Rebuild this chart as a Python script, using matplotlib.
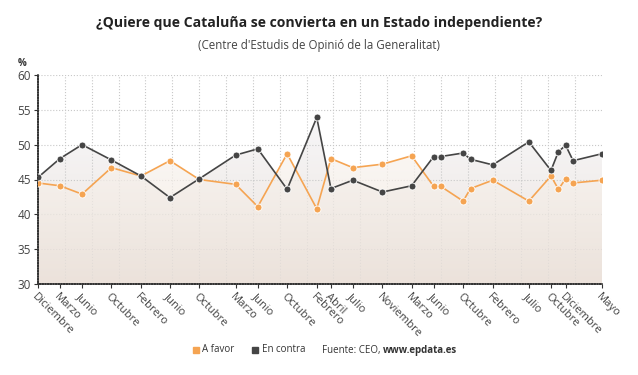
import matplotlib
matplotlib.use("Agg")
import matplotlib.pyplot as plt
import matplotlib.dates as mdates
import numpy as np
import pandas as pd
from matplotlib.colors import LinearSegmentedColormap
from matplotlib.ticker import FixedLocator

plt.rcParams['font.family'] = ['Open Sans', 'DejaVu Sans']

# ---- data ----
survey_dates = ['2011-12', '2012-03', '2012-06', '2012-10', '2013-02', '2013-06',
                '2013-10', '2014-03', '2014-06', '2014-10', '2015-02', '2015-04',
                '2015-07', '2015-11', '2016-03', '2016-06', '2016-07', '2016-10',
                '2016-11', '2017-02', '2017-07', '2017-10', '2017-11', '2017-12',
                '2018-01', '2018-05']
a_favor = [44.5, 44.1, 42.9, 46.7, 45.5, 47.7, 45.0, 44.3, 41.1, 48.7, 40.8, 48.0,
           46.7, 47.2, 48.4, 44.0, 44.0, 41.9, 43.7, 44.9, 41.9, 45.5, 43.6, 45.1,
           44.5, 44.9]
en_contra = [45.3, 48.0, 50.0, 47.8, 45.5, 42.4, 45.1, 48.5, 49.4, 43.6, 53.9, 43.7,
             44.9, 43.2, 44.1, 48.3, 48.3, 48.8, 47.9, 47.1, 50.4, 46.3, 49.0, 49.9,
             47.7, 48.7]
tick_dates = ['2011-12', '2012-03', '2012-06', '2012-10', '2013-02', '2013-06',
              '2013-10', '2014-03', '2014-06', '2014-10', '2015-02', '2015-04',
              '2015-07', '2015-11', '2016-03', '2016-06', '2016-10', '2017-02',
              '2017-07', '2017-10', '2017-12', '2018-05']
tick_labels = ['Diciembre', 'Marzo', 'Junio', 'Octubre', 'Febrero', 'Junio',
               'Octubre', 'Marzo', 'Junio', 'Octubre', 'Febrero', 'Abril',
               'Julio', 'Noviembre', 'Marzo', 'Junio', 'Octubre', 'Febrero',
               'Julio', 'Octubre', 'Diciembre', 'Mayo']
y_ticks = [30, 35, 40, 45, 50, 55, 60]

ORANGE = '#f5a452'
DARK = '#454545'

x = mdates.date2num(pd.to_datetime(survey_dates))
xt = mdates.date2num(pd.to_datetime(tick_dates))

fig = plt.figure(figsize=(6.38, 3.75), dpi=100)
ax = fig.add_axes([38/638, 1-284/375, (602-38)/638, (284-75)/375])
xmin, xmax = xt[0], xt[-1]
ymin, ymax = 30, 60

# gradient fills
def grad_fill(yvals, c_top, c_bot, alpha, z):
    poly = ax.fill_between(x, ymin, yvals, color='none', lw=0, zorder=z)
    cmap = LinearSegmentedColormap.from_list('g', [c_bot, c_top])
    grad = np.linspace(0, 1, 256).reshape(-1, 1)
    im = ax.imshow(grad, cmap=cmap, origin='lower', aspect='auto',
                   extent=[xmin, xmax, ymin, ymax - 5], alpha=alpha, zorder=z,
                   interpolation='bicubic')
    path = poly.get_paths()[0]
    im.set_clip_path(path, transform=ax.transData)

grad_fill(en_contra, '#f7f7f9', '#ece4de', 1.0, 0.5)
grad_fill(a_favor, '#fdf9f4', '#ece2db', 0.7, 0.6)

ax.plot(x, en_contra, color=DARK, lw=1.2, marker='o', ms=5,
        mfc=DARK, mec='white', mew=0.6, zorder=4)
ax.plot(x, a_favor, color=ORANGE, lw=1.2, marker='o', ms=5,
        mfc=ORANGE, mec='white', mew=0.6, zorder=3)

ax.set_xlim(xmin, xmax)
ax.set_ylim(ymin, ymax)

ax.set_xticks(xt)
ax.set_xticklabels(tick_labels, rotation=-45, ha='left', va='top',
                   rotation_mode='anchor', fontsize=8, color='#444444')
ax.set_yticks(y_ticks)
ax.set_yticklabels([str(v) for v in y_ticks], fontsize=8.5, color='#444444')
ax.xaxis.set_minor_locator(FixedLocator(np.linspace(xmin, xmax, 22)))
ax.tick_params(axis='x', which='major', length=3, width=0.8, color='#333333', pad=2)
ax.tick_params(axis='x', which='minor', length=0)
ax.tick_params(axis='y', length=3, width=0.8, color='#333333', pad=2)

ax.grid(False)
ax.grid(axis='x', which='minor', color='#c8c8c8', ls=':', lw=0.8, zorder=1)
ax.grid(axis='y', which='major', color='#c8c8c8', ls=':', lw=0.8, zorder=1)
ax.set_axisbelow(True)

for s in ['top', 'right']:
    ax.spines[s].set_visible(False)
ax.spines['left'].set_color('#333333')
ax.spines['left'].set_linewidth(1.2)
ax.spines['left'].set_linestyle((0, (1, 0.6)))
ax.spines['bottom'].set_color('#333333')
ax.spines['bottom'].set_linewidth(1.2)
ax.spines['bottom'].set_linestyle((0, (1, 0.6)))

fig.text(18/638, 1-64/375, '%', fontsize=7, fontweight='bold', color='#333333',
         ha='left', va='center')

fig.text(0.5, 1-23/375, '¿Quiere que Cataluña se convierta en un Estado independiente?',
         fontsize=10.1, fontweight='bold', color='#222222', ha='center', va='center')
fig.text(0.5, 1-45/375, "(Centre d'Estudis de Opinió de la Generalitat)",
         fontsize=8.3, color='#444444', ha='center', va='center')

# legend
ly = 1-350/375
fig.patches.append(plt.Rectangle((193/638, ly-3/375), 6/638, 6/375,
                                 transform=fig.transFigure, color=ORANGE))
fig.text(202/638, ly, 'A favor', fontsize=7, color='#333333', va='center')
fig.patches.append(plt.Rectangle((252/638, ly-3/375), 6/638, 6/375,
                                 transform=fig.transFigure, color=DARK))
fig.text(262/638, ly, 'En contra', fontsize=7, color='#333333', va='center')
t = fig.text(322/638, ly, 'Fuente: CEO, ', fontsize=7, color='#333333', va='center')
fig.canvas.draw()
bb = t.get_window_extent()
fig.text(bb.x1/638, ly, 'www.epdata.es', fontsize=7, color='#333333',
         va='center', fontweight='bold')

fig.savefig('out.png', dpi=100)
